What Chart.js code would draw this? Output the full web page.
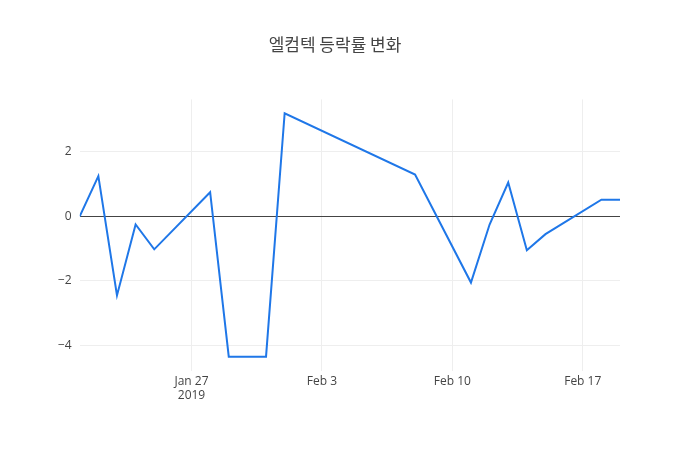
<!DOCTYPE html>
<html>
<head>
<meta charset="utf-8">
<script src="https://cdn.jsdelivr.net/npm/chart.js@4"></script>
<style>
  body { margin: 0; background: #fff; }
  #wrap { width: 700px; height: 450px; }
</style>
</head>
<body>
<div id="wrap"><canvas id="c"></canvas></div>
<script>
// days relative to Jan 27 2019
const days = [-6, -5, -4, -3, -2, 1, 2, 4, 5, 12, 15, 16, 17, 18, 19, 22, 23];
const values = [0, 1.25, -2.45, -0.25, -1.02, 0.75, -4.35, -4.35, 3.2, 1.3, -2.05, -0.25, 1.05, -1.05, -0.55, 0.52, 0.52];
const tickDays = [0, 7, 14, 21];
const tickLabels = [['Jan 27', '2019'], 'Feb 3', 'Feb 10', 'Feb 17'];

const font = { family: '"Open Sans", sans-serif', size: 12 };

new Chart(document.getElementById('c'), {
  type: 'line',
  data: {
    datasets: [{
      data: days.map((d, i) => ({ x: d, y: values[i] })),
      borderColor: '#1f77e8',
      borderWidth: 2,
      pointRadius: 0,
      tension: 0,
      fill: false,
    }],
  },
  options: {
    responsive: true,
    maintainAspectRatio: false,
    animation: false,
    layout: { padding: { left: 50, right: 80, top: 22, bottom: 44 } },
    plugins: {
      legend: { display: false },
      tooltip: { enabled: false },
      title: {
        display: true,
        text: '엘컴텍 등락률 변화',
        color: '#444',
        font: { family: '"Noto Sans CJK KR", sans-serif', size: 17, weight: 'normal' },
        padding: { top: 12, bottom: 45 },
      },
    },
    scales: {
      x: {
        type: 'linear',
        min: -6,
        max: 23,
        afterBuildTicks: axis => { axis.ticks = tickDays.map(v => ({ value: v })); },
        ticks: {
          color: '#444',
          font,
          callback: v => tickLabels[tickDays.indexOf(v)],
          maxRotation: 0,
        },
        grid: { color: '#eeeeee', drawTicks: false },
        border: { display: false },
      },
      y: {
        min: -4.8,
        max: 3.63,
        afterBuildTicks: axis => { axis.ticks = [-4, -2, 0, 2].map(v => ({ value: v })); },
        ticks: { color: '#444', font, padding: 8, callback: v => v < 0 ? '−' + Math.abs(v) : String(v) },
        grid: {
          color: ctx => ctx.tick && ctx.tick.value === 0 ? '#444' : '#eeeeee',
          lineWidth: 1,
          drawTicks: false,
        },
        border: { display: false },
      },
    },
  },
});
</script>
</body>
</html>
